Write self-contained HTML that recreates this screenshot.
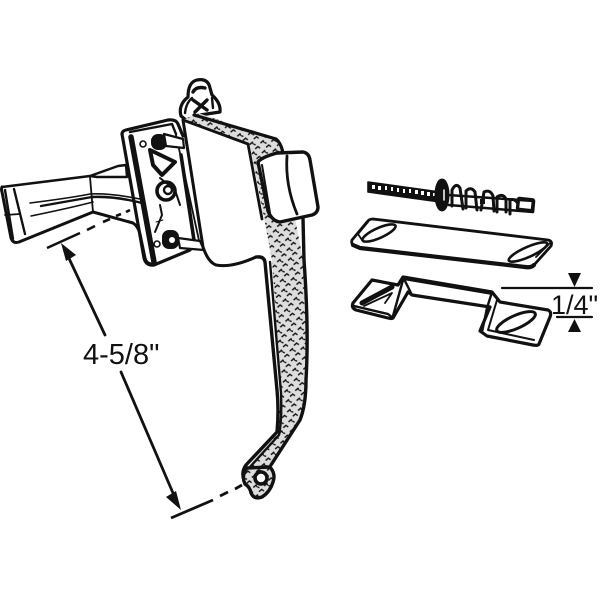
<!DOCTYPE html>
<html><head><meta charset="utf-8"><style>
html,body{margin:0;padding:0;background:#fff}
svg{display:block}
text{font-family:"Liberation Sans",sans-serif;fill:#111}
</style></head><body>
<svg width="600" height="600" viewBox="0 0 600 600" xmlns="http://www.w3.org/2000/svg">
<defs>
<pattern id="h" width="11" height="10" patternUnits="userSpaceOnUse" patternTransform="rotate(-8)">
<rect width="11" height="10" fill="#ddd"/>
<path d="M1 3l3-2l2 2M7 8l3-2l1 2M0 8l2 1" stroke="#111" stroke-width="1.4" fill="none"/>
</pattern>
</defs>
<g fill="none" stroke="#111" stroke-width="2" stroke-linejoin="round" stroke-linecap="round">
<!-- thumb piece -->
<path d="M2 187L90 176L118 166L126 165L127 177L97 177L90 176" stroke-width="2.4"/>
<path d="M2 187Q1 189 2 192L11 238Q13 244 19 242L93 212L133 223Q138 226 140 234L145 258Q146 263 151 264" stroke-width="3"/>
<path d="M90 177L93 212M5 215L20 214" stroke-width="1.8"/>
<path d="M14 189L25 234" stroke-width="2.4" stroke-dasharray="2 1"/>
<path d="M5 190L13 239" stroke-width="2.4"/>
<path d="M30 203Q70 198 90 194Q110 193 140 199" stroke-width="1.6"/>
<path d="M41 206Q75 200 92 197Q115 196 142 203" stroke-width="2.4"/>
<path d="M31 216Q70 208 93 202" stroke-width="1.6"/>
<!-- plate -->
<path d="M122 134Q122 131 126 130L168 120Q176 119 178 124L183 136" stroke-width="3.2"/>
<path d="M122 134L144 258Q146 266 154 265L190 250" stroke-width="3.2"/>
<path d="M131 137L154 262" stroke-width="5.500"/>
<path d="M130 132L172 124L176 134" stroke-width="2.4"/>
<path d="M176 135L200 245" stroke-width="1.8"/>
<path d="M181 155L194 240" stroke-width="3.6"/>
<circle cx="143" cy="144" r="3" stroke-width="1.6"/>
<circle cx="157" cy="244" r="3" stroke-width="1.6"/>
<rect x="152" y="135" width="14" height="14" rx="6" fill="#111"/>
<path d="M164 134L183 139L184 148L166 146Z" fill="#fff" stroke-width="2.2"/>
<path d="M150 150L175 162L162 175L153 165Z" stroke-width="4"/>
<path d="M160 178L175 190L180 205" stroke-width="2"/>
<circle cx="166" cy="191" r="9" stroke-width="3.6"/>
<circle cx="168" cy="190" r="4" stroke-width="2.4"/>
<path d="M160 205L162 215L155 232" stroke-width="2"/>
<rect x="163" y="231" width="15" height="17" rx="6" fill="#111"/>
<path d="M178 238L200 241L204 250L180 248Z" fill="#fff" stroke-width="2.2"/>
<circle cx="172" cy="240" r="3" fill="#fff" stroke="none"/>
<path d="M156 222L163 220" stroke-width="1"/>
<!-- top lug -->
<path d="M181 116Q178 105 188 97Q188 82 197 80Q208 78 210 88L212 95Q221 103 220 112L200 115L186 120Z" fill="#fff" stroke-width="3.2"/>
<path d="M193 92Q196 86 205 88M193 100L207 110M207 100L195 112" stroke-width="3.4"/>
<path d="M185 113Q186 103 192 98M213 108L212 98" stroke-width="2.4"/>
<!-- handle arm -->
<path d="M183 120L198 113L276 139L283 155L303 260Q309 330 306 380Q306 405 300 420L270 467L248 467L277 433L281 393L272 260L250 145Z" fill="url(#h)" stroke="none"/>
<path d="M194 115L276 139Q281 143 283 153" stroke-width="3.2"/>
<path d="M303 218L304 260Q309 330 306 380Q306 405 300 420L271 465" stroke-width="3.4"/>
<!-- cover -->
<path d="M183 120L248 143L267 260L256 258Q232 268 216 265Q208 262 203 247Z" fill="#fff" stroke="none"/>
<path d="M183 120L248 144L262 219" stroke-width="2.8"/>
<path d="M183 120L203 247Q208 262 216 265Q232 268 256 257" stroke-width="3"/>
<path d="M256 257Q264 256 265 262L277 390Q279 410 277 432L246 465Q241 472 244 480Q248 486 252 490" stroke-width="3.4"/>
<path d="M270 262L281 393Q282 420 279 435L249 468" stroke-width="2.4"/>
<!-- bottom lug -->
<path d="M247 468L270 467Q276 474 273 482Q270 492 262 497Q254 500 251 493Q250 487 245 484Q241 476 247 468Z" fill="url(#h)" stroke-width="3.4"/>
<circle cx="261" cy="478" r="6" fill="#fff" stroke-width="3.6"/>
<!-- knob -->
<path d="M258 162Q262 157 277 153L303 152Q309 153 310 160L318 207Q318 213 312 215L280 222Q272 221 268 211Z" fill="#fff" stroke-width="3.4"/>
<path d="M287 156Q285 185 297 214" stroke-width="2.8"/>
<path d="M262 165L270 213" stroke-width="2"/>
<!-- screw -->
<path d="M368 182L440 192L440 202L368 192Z" fill="#111" stroke-width="1.6"/>
</g>
<g fill="#fff">
<rect x="372" y="185" width="3" height="4"/><rect x="378" y="186" width="3" height="4"/><rect x="385" y="186" width="2" height="4"/><rect x="391" y="187" width="2" height="4"/><rect x="397" y="188" width="2" height="4"/><rect x="403" y="189" width="2" height="4"/><rect x="409" y="189" width="2" height="4"/><rect x="415" y="190" width="3" height="4"/><rect x="421" y="191" width="3" height="4"/><rect x="427" y="192" width="3" height="4"/><rect x="433" y="193" width="3" height="3"/>
</g>
<g fill="none" stroke="#111" stroke-linejoin="round" stroke-linecap="round">
<ellipse cx="442" cy="195" rx="6" ry="15" fill="#111" stroke-width="3"/>
<path d="M444 190L444 200" stroke="#fff" stroke-width="1.500"/>
<path d="M448 195L534 201L533 212L449 205" stroke-width="2.6"/>
<path d="M452 206V190Q456 182 460 188L463 209" stroke-width="3"/>
<path d="M466 208V191Q471 186 475 192L477 210" stroke-width="3"/>
<path d="M481 210L484 192Q490 189 493 196L494 211" stroke-width="3"/>
<path d="M497 212V197Q503 193 506 199L506 212" stroke-width="3"/>
<path d="M510 214V200Q515 198 518 204" stroke-width="3"/>
<rect x="518" y="199" width="15" height="11" rx="1" stroke-width="3.4" transform="rotate(6 525 204)"/>
<rect x="480" y="199" width="5" height="5" fill="#111" stroke="none"/>
<!-- plate -->
<path d="M373 219L548 240Q553 241 551 246L534 265Q531 268 525 267L360 248Q350 246 352 240L367 222Q369 219 373 219Z" stroke-width="2.8"/>
<path d="M353 245L360 248L525 267Q531 268 534 265" stroke-width="4.200"/>
<ellipse cx="379" cy="233" rx="18" ry="5" transform="rotate(-24 379 233)" stroke-width="2.6"/>
<ellipse cx="528" cy="252" rx="21" ry="5" transform="rotate(-24 528 252)" stroke-width="2.6"/>
<path d="M368 222L358 234L362 240M550 243L536 257" stroke-width="1.800"/>
<!-- bracket -->
<path d="M372 280L398 285L403 277L492 292L500 302L548 310Q552 312 550 317L539 344Q538 346 533 345L487 336L480 331L490 307L412 295L408 292L393 318Q392 319 388 318L356 310Q351 308 353 303Z" fill="#fff" stroke-width="3.2"/>
<path d="M403 277L412 295M403 280L393 316" stroke-width="2.4"/>
<path d="M404 279L493 294" stroke-width="2.4"/>
<path d="M492 292L487 308L482 332" stroke-width="2.4"/>
<path d="M497 300L488 330L534 340" stroke-width="2"/>
<path d="M354 306L388 314L393 318" stroke-width="2.4"/>
<path d="M362 303L392 287" stroke-width="5"/>
<path d="M364 306L392 293L385 303" stroke-width="1.800"/>
<ellipse cx="516" cy="322" rx="21" ry="6.500" transform="rotate(-24 516 322)" stroke-width="3"/>
<!-- dimensions -->
<path d="M502 288H592M557 317H592" stroke-width="2.200"/>
<path d="M47 248L80 233M87 230L95 226M103 222L110 219M116 216L121 214M126 212L130 210" stroke-width="2.6" stroke-linecap="butt"/>
<path d="M171 518L213 500M220 496L228 492M235 489L242 485" stroke-width="2.8" stroke-linecap="butt"/>
<path d="M66 252L105 335M121 372L176 500" stroke-width="2.8"/>
</g>
<g fill="#111" stroke="none">
<path d="M568 273H581L574.500 287Z"/>
<path d="M568 332H581L574.500 319Z"/>
<path d="M61 243L76 255L66 261Z"/>
<path d="M181 510L166 497L176 491Z"/>
</g>
<text x="83" y="364" font-size="29">4-5/8"</text>
<text x="551" y="314" font-size="27">1/4"</text>
</svg>
</body></html>
